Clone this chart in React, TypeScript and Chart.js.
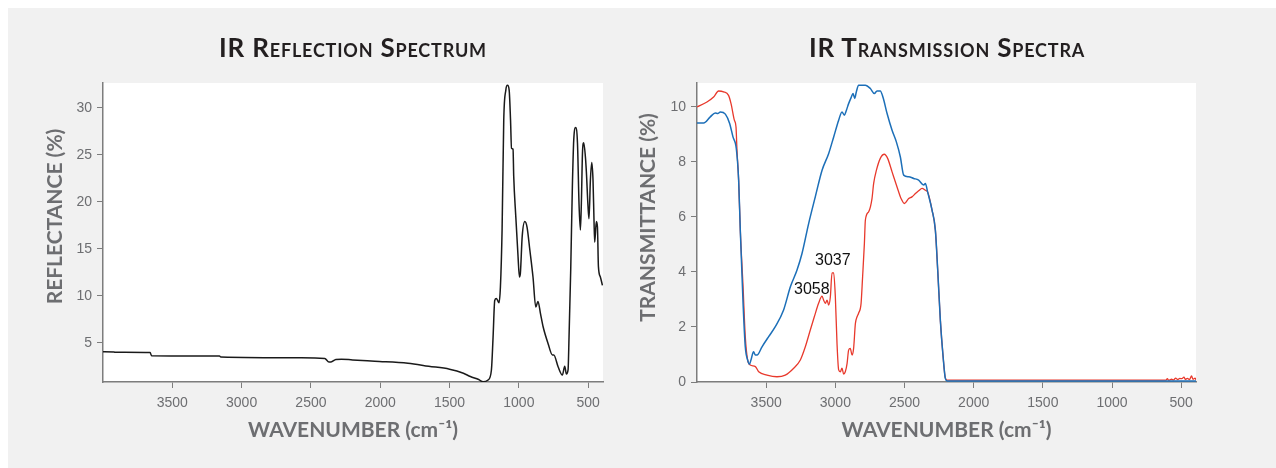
import React, { useEffect, useRef } from "react";
import { Chart, registerables } from "chart.js";

Chart.register(...registerables);

// ---------- DATA ----------
// IR reflection spectrum (wavenumber cm-1, reflectance %)
const reflWavenumber = [
  4000, 3920, 3915, 3660, 3650, 3160, 3150, 2570, 2400, 2370, 2355, 2320, 2280, 2200, 2040,
  1800, 1650, 1500, 1400, 1350, 1290, 1258, 1222, 1198, 1186, 1174, 1162, 1143, 1133, 1121,
  1109, 1094, 1082, 1070, 1060, 1053, 1042, 1037, 1022, 1006, 996, 989, 976, 957, 941, 921,
  898, 878, 862, 844, 825, 789, 758, 748, 717, 686, 669, 657, 645, 638, 626, 614, 604, 590,
  577, 566, 556, 549, 541, 532, 520, 513, 501, 494, 484, 474, 465, 458, 453, 441, 433, 426,
  412, 397,
];
const reflValues = [
  4.04, 4.02, 3.98, 3.95, 3.62, 3.58, 3.48, 3.4, 3.33, 2.95, 2.95, 3.22, 3.25, 3.17, 3.03,
  2.82, 2.5, 2.18, 1.75, 1.4, 1.08, 0.85, 1.03, 2.1, 5.6, 9.5, 9.7, 9.26, 10.96, 17.0,
  28.7, 31.9, 32.4, 31.9, 28.7, 25.7, 25.6, 22.7, 18.4, 14.2, 12.0, 12.4, 16.3, 17.9, 17.3, 14.9,
  12.0, 8.8, 9.4, 8.1, 6.7, 4.9, 3.7, 3.7, 2.45, 1.56, 2.5, 1.67, 2.1, 5.6, 12.7, 21.6, 26.6, 27.9,
  26.2, 19.8, 17.0, 19.9, 25.2, 26.3, 24.8, 23.2, 19.5, 18.2, 22.3, 24.2, 22.3, 18.1, 15.7, 17.9, 17.3, 13.1,
  12.0, 11.1,
];

// IR transmission spectra (wavenumber cm-1, transmittance %)
const redWavenumber = [
  4000, 3928, 3880, 3844, 3808, 3772, 3754, 3730, 3718, 3711, 3699, 3687, 3667, 3651, 3634,
  3615, 3578, 3554, 3494, 3422, 3362, 3301, 3253, 3217, 3181, 3152, 3121, 3096, 3085, 3072,
  3060, 3048, 3036, 3024, 3012, 3000, 2988, 2976, 2964, 2952, 2940, 2928, 2915, 2904, 2892,
  2879, 2868, 2855, 2843, 2832, 2814, 2803, 2790, 2783, 2759, 2735, 2723, 2703, 2675, 2646,
  2622, 2590, 2554, 2525, 2501, 2470, 2446, 2421, 2398, 2373, 2349, 2333, 2301, 2277, 2260,
  2241, 2221, 2205, 2192, 1500, 610, 600, 590, 570, 555, 540, 525, 510, 495, 480, 470, 455,
  440, 425, 415, 400, 393,
];
const redValues = [
  10.0, 10.18, 10.36, 10.58, 10.55, 10.42, 10.12, 9.52, 9.27, 8.43, 7.34, 5.52, 3.46, 1.65, 0.8,
  0.62, 0.56, 0.37, 0.25, 0.19, 0.25, 0.5, 0.8, 1.28, 1.89, 2.37, 2.86, 3.12, 2.98, 2.86,
  2.98, 2.8, 3.1, 3.97, 3.97, 3.1, 1.41, 0.44, 0.37, 0.5, 0.29, 0.37, 0.68, 1.16, 1.22,
  0.98, 1.22, 2.13, 2.37, 2.5, 2.86, 3.82, 5.04, 5.88, 6.19, 6.67, 7.22, 7.7, 8.13, 8.28,
  8.13, 7.64, 7.09, 6.67, 6.49, 6.67, 6.73, 6.85, 6.95, 7.04, 6.97, 6.91, 6.25, 5.52, 4.07,
  2.25, 0.92, 0.15, 0.07, 0.07, 0.07, 0.12, 0.06, 0.1, 0.08, 0.14, 0.09, 0.13, 0.12, 0.18, 0.1, 0.13,
  0.09, 0.22, 0.1, 0.14, 0.08,
];
const blueWavenumber = [
  4000, 3952, 3904, 3868, 3850, 3831, 3795, 3764, 3740, 3716, 3699, 3687, 3667, 3651, 3634,
  3620, 3610, 3591, 3578, 3566, 3530, 3482, 3434, 3374, 3325, 3277, 3241, 3193, 3145, 3096,
  3048, 3012, 2976, 2952, 2935, 2920, 2904, 2886, 2872, 2860, 2848, 2832, 2783, 2747, 2718,
  2699, 2675, 2655, 2626, 2590, 2559, 2530, 2506, 2470, 2434, 2398, 2361, 2349, 2333, 2301,
  2277, 2260, 2241, 2221, 2205, 2192, 393,
];
const blueValues = [
  9.42, 9.42, 9.64, 9.78, 9.76, 9.82, 9.74, 9.4, 8.91, 8.49, 7.34, 5.52, 2.86, 1.28, 0.8,
  0.65, 0.8, 1.1, 0.98, 0.98, 1.28, 1.65, 2.01, 2.62, 3.46, 4.07, 4.67, 5.76, 6.73, 7.7,
  8.31, 8.91, 9.52, 9.82, 9.7, 9.88, 10.12, 10.34, 10.49, 10.31, 10.55, 10.79, 10.79, 10.67, 10.49,
  10.58, 10.58, 10.34, 9.76, 9.15, 8.73, 8.18, 7.52, 7.46, 7.4, 7.34, 7.16, 7.22, 6.91, 6.25,
  5.52, 4.07, 2.25, 0.92, 0.13, 0.04, 0.04,
];

// Tick labels
const xTickValues = [500, 1000, 1500, 2000, 2500, 3000, 3500];
const reflTickValues = [5, 10, 15, 20, 25, 30];
const transTickValues = [0, 2, 4, 6, 8, 10];

// Peak annotations on the red spectrum
const peakLabels = ["3058", "3037"];
const peakLabelWavenumber = [3170, 3018];
const peakLabelValue = [3.37, 4.41];

// ---------- STYLE ----------
const AXIS_COLOR = "#7d7d7d";
const TEXT_GRAY = "#6d6e71";
const TITLE_COLOR = "#231f20";
const TICK_FONT = { family: "'Liberation Sans', Arial, sans-serif", size: 14 };
const AXIS_TITLE_FONT = { family: "Lato, 'Open Sans', sans-serif", size: 21, weight: "bold" as const };
const AXIS_TITLE_CSS = "bold 21px Lato, 'Open Sans', sans-serif";

const plotBackground = {
  id: "plotBackground",
  beforeDraw(chart: any) {
    const { ctx, chartArea } = chart;
    if (!chartArea) return;
    ctx.save();
    ctx.fillStyle = "#ffffff";
    ctx.fillRect(chartArea.left, chartArea.top, chartArea.right - chartArea.left, chartArea.bottom - chartArea.top);
    ctx.restore();
  },
};

// Rotated y-axis title, placed relative to the y scale box
function makeYTitle(text: string, xFromScaleLeft: number, yShift: number) {
  return {
    id: "yTitle",
    afterDraw(chart: any) {
      const { ctx, scales } = chart;
      const y = scales.y;
      ctx.save();
      ctx.fillStyle = TEXT_GRAY;
      ctx.font = AXIS_TITLE_CSS;
      ctx.textAlign = "center";
      ctx.textBaseline = "middle";
      ctx.translate(y.left + xFromScaleLeft, (y.top + y.bottom) / 2 + yShift);
      ctx.rotate(-Math.PI / 2);
      ctx.fillText(text, 0, 0);
      ctx.restore();
    },
  };
}

const peakAnnotations = {
  id: "peakAnnotations",
  afterDatasetsDraw(chart: any) {
    const { ctx, scales } = chart;
    ctx.save();
    ctx.fillStyle = "#111111";
    ctx.font = "16px 'Liberation Sans', Arial, sans-serif";
    ctx.textAlign = "center";
    ctx.textBaseline = "middle";
    peakLabels.forEach((label, i) => {
      const px = scales.x.getPixelForValue(peakLabelWavenumber[i]);
      const py = scales.y.getPixelForValue(peakLabelValue[i]);
      ctx.fillText(label, px, py);
    });
    ctx.restore();
  },
};

function toPoints(xs: number[], ys: number[]) {
  return xs.map((x, i) => ({ x, y: ys[i] }));
}

function buildOptions(p: { yMin: number; yMax: number; yTicks: number[]; yWidth: number; rightPad: number }) {
  return {
    responsive: false,
    animation: false as const,
    events: [],
    layout: { padding: { top: 75, right: p.rightPad, bottom: 0, left: 0 } },
    plugins: { legend: { display: false }, tooltip: { enabled: false }, title: { display: false } },
    elements: { point: { radius: 0 } },
    scales: {
      x: {
        type: "linear" as const,
        reverse: true,
        min: 393,
        max: 4000,
        afterBuildTicks: (s: any) => {
          s.ticks = xTickValues.map((v) => ({ value: v }));
        },
        afterFit: (s: any) => {
          s.height = 86;
        },
        grid: { display: true, drawOnChartArea: false, drawTicks: true, tickLength: 6, color: AXIS_COLOR, lineWidth: 1 },
        border: { display: true, color: AXIS_COLOR, width: 1.5 },
        ticks: {
          color: TEXT_GRAY,
          font: TICK_FONT,
          padding: 7,
          maxRotation: 0,
          autoSkip: false,
          callback: (v: any) => String(v),
        },
        title: {
          display: true,
          text: "WAVENUMBER (cm⁻¹)",
          color: TEXT_GRAY,
          font: AXIS_TITLE_FONT,
          padding: { top: 0, bottom: 25 },
        },
      },
      y: {
        type: "linear" as const,
        min: p.yMin,
        max: p.yMax,
        afterBuildTicks: (s: any) => {
          s.ticks = p.yTicks.map((v) => ({ value: v }));
        },
        afterFit: (s: any) => {
          s.width = p.yWidth;
        },
        grid: { display: true, drawOnChartArea: false, drawTicks: true, tickLength: 6, color: AXIS_COLOR, lineWidth: 1 },
        border: { display: true, color: AXIS_COLOR, width: 1.5 },
        ticks: { color: TEXT_GRAY, font: TICK_FONT, padding: 5, autoSkip: false, callback: (v: any) => String(v) },
        title: { display: false },
      },
    },
  };
}

function ChartCanvas({ make, width, height, left }: { make: () => any; width: number; height: number; left: number }) {
  const ref = useRef<HTMLCanvasElement>(null);
  useEffect(() => {
    const chart = new Chart(ref.current as HTMLCanvasElement, make());
    return () => chart.destroy();
  }, []);
  return (
    <canvas
      ref={ref}
      width={width}
      height={height}
      style={{ position: "absolute", left, top: 0, width, height }}
    />
  );
}

const titleStyle: React.CSSProperties = {
  position: "absolute",
  top: 26,
  textAlign: "center",
  fontFamily: "Lato, 'Open Sans', sans-serif",
  fontWeight: 700,
  fontSize: 26,
  lineHeight: "26px",
  letterSpacing: "0.8px",
  fontVariant: "small-caps",
  color: TITLE_COLOR,
  whiteSpace: "nowrap",
};

export default function App() {
  const makeReflection = () => ({
    type: "line",
    data: {
      datasets: [
        {
          data: toPoints(reflWavenumber, reflValues),
          borderColor: "#1a1a1a",
          borderWidth: 1.5,
          cubicInterpolationMode: "monotone",
          fill: false,
        },
      ],
    },
    options: buildOptions({ yMin: 0.82, yMax: 32.65, yTicks: reflTickValues, yWidth: 95, rightPad: 27 }),
    plugins: [plotBackground, makeYTitle("REFLECTANCE (%)", 47, -16)],
  });

  const makeTransmission = () => ({
    type: "line",
    data: {
      datasets: [
        {
          data: toPoints(blueWavenumber, blueValues),
          borderColor: "#1c6fb8",
          borderWidth: 1.5,
          cubicInterpolationMode: "monotone",
          fill: false,
        },
        {
          data: toPoints(redWavenumber, redValues),
          borderColor: "#e8392c",
          borderWidth: 1.3,
          cubicInterpolationMode: "monotone",
          fill: false,
        },
      ],
    },
    options: buildOptions({ yMin: 0, yMax: 10.87, yTicks: transTickValues, yWidth: 67, rightPad: 80 }),
    plugins: [plotBackground, peakAnnotations, makeYTitle("TRANSMITTANCE (%)", 18, -15)],
  });

  return (
    <div
      style={{
        position: "fixed",
        left: 8,
        top: 8,
        width: 1268,
        height: 460,
        background: "#f1f1f1",
        overflow: "hidden",
      }}
    >
      <ChartCanvas make={makeReflection} width={622} height={460} left={0} />
      <ChartCanvas make={makeTransmission} width={646} height={460} left={622} />
      <div style={{ ...titleStyle, left: 95, width: 500 }}>IR Reflection Spectrum</div>
      <div style={{ ...titleStyle, left: 689, width: 500 }}>IR Transmission Spectra</div>
    </div>
  );
}
